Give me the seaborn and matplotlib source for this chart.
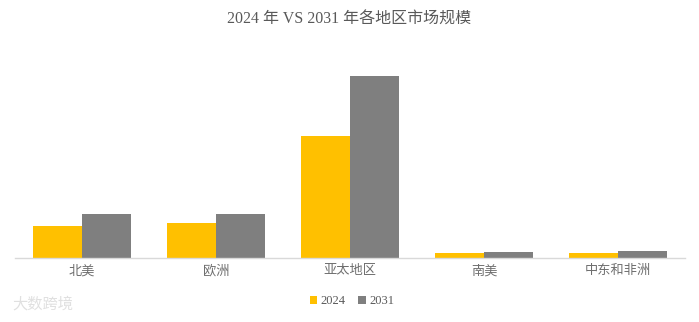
import matplotlib
matplotlib.use("Agg")
import matplotlib.pyplot as plt
import seaborn as sns
import pandas as pd

regions = ["北美", "欧洲", "亚太地区", "南美", "中东和非洲"]
years = ["2024", "2031"]
values_2024 = [32, 35, 122, 5.3, 5.3]
values_2031 = [44, 44, 182, 6.3, 7.0]

df = pd.DataFrame({
    "region": regions * 2,
    "year": [years[0]] * len(regions) + [years[1]] * len(regions),
    "value": values_2024 + values_2031,
})

sns.set_style("white")
plt.rcParams["font.family"] = ["Liberation Serif", "Noto Sans CJK SC", "DejaVu Sans"]

fig = plt.figure(figsize=(6.99, 3.22), dpi=100)
ax = fig.add_axes([15 / 699, (322 - 258) / 322, 670 / 699, 198 / 322])

palette = {"2024": "#FFC000", "2031": "#7F7F7F"}
sns.barplot(data=df, x="region", y="value", hue="year", palette=palette,
            width=0.73, saturation=1, linewidth=0, ax=ax, legend=False)

ax.set_ylim(0, 198)
ax.set_xlim(-0.5, len(regions) - 0.5)
ax.set_xlabel("")
ax.set_ylabel("")
ax.set_yticks([])
for s in ["top", "left", "right"]:
    ax.spines[s].set_visible(False)
ax.spines["bottom"].set_color("#D9D9D9")
ax.spines["bottom"].set_linewidth(1)
ax.tick_params(axis="x", length=0, pad=5, labelsize=9.5, labelcolor="#6E6E6E")

fig.text(0.5, 1 - 20 / 322, "2024 年 VS 2031 年各地区市场规模", ha="center", va="center",
         fontsize=11.5, color="#595959")

from matplotlib.patches import Patch
handles = [Patch(facecolor=palette[y], edgecolor="none", label=y) for y in years]
fig.legend(handles=handles, loc="center", bbox_to_anchor=(352 / 699, 1 - 301 / 322),
           ncol=2, frameon=False, fontsize=9, labelcolor="#595959",
           handlelength=0.6, handleheight=0.6, handletextpad=0.3, columnspacing=1.0)

fig.text(12 / 699, 1 - 304 / 322, "大数跨境", ha="left", va="center", fontsize=11,
         color="#E0E0E0", family=["Noto Sans CJK SC"])

fig.savefig("out.png", dpi=100)
